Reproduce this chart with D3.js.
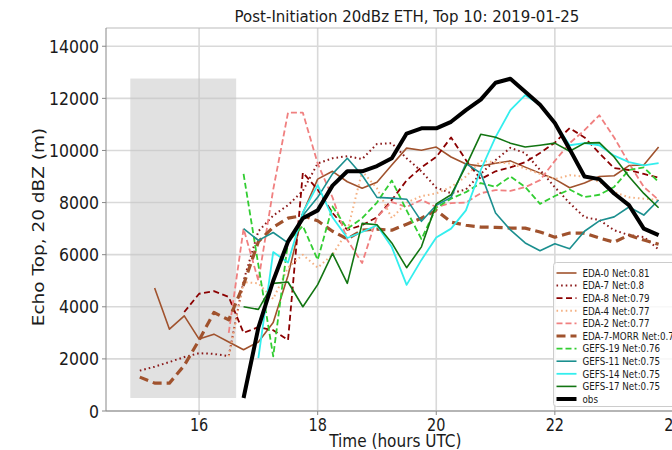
<!DOCTYPE html>
<html>
<head>
<meta charset="utf-8">
<script src="https://cdn.jsdelivr.net/npm/d3@7/dist/d3.min.js"></script>
<style>
  body { margin: 0; background: #fff; }
  text { font-family: "DejaVu Sans", sans-serif; fill: #1a1a1a; }
</style>
</head>
<body>
<svg id="chart" width="672" height="450"></svg>
<script>

// time axis (hours UTC, 15 min steps)
const times = [15.0, 15.25, 15.5, 15.75, 16.0, 16.25, 16.5, 16.75, 17.0, 17.25, 17.5, 17.75,
               18.0, 18.25, 18.5, 18.75, 19.0, 19.25, 19.5, 19.75, 20.0, 20.25, 20.5, 20.75,
               21.0, 21.25, 21.5, 21.75, 22.0, 22.25, 22.5, 22.75, 23.0, 23.25, 23.5, 23.75];

const N = null;

const eda0 = [N, 4720, 3140, 3650, 2760, 2950, 2650, 2350, 2650, 3400, 5200, 7600,
              8900, 9200, 8800, 8550, 8780, 9440, 10090, 10010, 10130, 9750, 9480, 9400,
              9510, 9600, 9360, 9130, 8900, 8570, 8750, 9000, 9030, 9420, 9440, 10130];

const eda7 = [1550, 1700, 1880, 2070, 2220, 2190, 2110, 5000, 6900, 7500, 7900, 8450,
              9500, 9700, 9780, 9670, 10250, 10280, 9700, 9200, 8570, 8360, 8500, 9100,
              9630, 10100, 9900, 9250, 8590, 7980, 7440, 7330, 6940, 6750, 6680, 6200];

const eda8 = [N, N, N, 3800, 4500, 4600, 4380, 3000, 3220, 3100, 2720, 9150,
              8500, 7600, 6950, 7130, 7440, 8100, 8850, 9350, 9750, 10500, 9630, 8900,
              9200, 9350, 9550, 9900, 10300, 10860, 10500, 9900, 9320, 9250, 9100, 8950];

const eda4 = [N, N, N, N, N, N, 2100, 4950, 4900, 4300, 5500, 6000,
              5500, 6000, 6900, 9200, 8550, 7400, 8000, 8250, 8350, 8600, 9000, 9600,
              9550, 9500, 9300, 9100, 8900, 9050, 9000, 8800, 8400, 8200, 8150, 8100];

const eda2 = [N, N, N, N, N, N, 3000, 7000, 5000, 8500, 11450, 11450,
              9500, 8200, 6560, 5680, 7440, 8020, 7830, 8100, 7830, 7980, 8000, 8360,
              8480, 8450, 8590, 8860, 9600, 10280, 10780, 11350, 10500, 9510, 8600, 8100];

const eda7morr = [1300, 1070, 1070, 1750, 2720, 3780, 3500, 4850, 6500, 7050, 7400, 7500,
                  7300, 6900, 6600, 6940, 6980, 6940, 7170, 7400, 7700, 7250, 7130, 7060,
                  7050, 7020, 7020, 6870, 6670, 6830, 6830, 6640, 6480, 6750, 6560, 6400];

const gefs19 = [N, N, N, N, N, N, N, 9100, 5600, 2100, 6500, 7100,
                5800, 7850, 7000, 7400, 8000, 8850, 7700, 6600, 7800, 8150, 8400, 8750,
                8600, 9000, 8600, 7950, 8250, 8500, 8210, 8300, 8600, 9250, 9350, 8790];

const gefs11 = [N, N, N, N, N, N, N, 7000, 6550, 6850, 6450, 7500,
                8200, 9100, 9700, 9050, 8200, 8170, 8130, 7280, 7900, 8200, 9500, 9130,
                7600, 6950, 6450, 6150, 6420, 6230, 6900, 7300, 7450, 7830, 7520, 8100];

const gefs14 = [N, N, N, N, N, N, N, N, 2030, 6100, 5700, 7620,
                8670, 7440, 6640, 6870, 7130, 6290, 4840, 5800, 6660, 7000, 7700, 9250,
                10510, 11550, 12120, 11750, 11050, 10200, 10280, 10200, 9800, 9550, 9430, 9510];

const gefs17 = [N, N, N, N, N, N, N, 4000, 3900, 4900, 4950, 4000,
                4850, 6050, 4900, 7200, 7150, 6450, 5500, 6300, 7950, 8300, 9400, 10620,
                10510, 10280, 10130, 10200, 10280, 9970, 10280, 10300, 9750, 9000, 8350, 7800];

const obs = [N, N, N, N, N, N, N, 500, 3200, 5000, 6500, 7400,
             7700, 8650, 9200, 9200, 9400, 9700, 10650, 10850, 10850, 11100, 11550, 11950,
             12600, 12750, 12250, 11750, 11050, 10050, 9000, 8900, 8350, 7900, 7000, 6750];

const labels = ["EDA-0 Net:0.81", "EDA-7 Net:0.8", "EDA-8 Net:0.79", "EDA-4 Net:0.77",
                "EDA-2 Net:0.77", "EDA-7-MORR Net:0.76", "GEFS-19 Net:0.76", "GEFS-11 Net:0.75",
                "GEFS-14 Net:0.75", "GEFS-17 Net:0.75", "obs"];

const values = [eda0, eda7, eda8, eda4, eda2, eda7morr, gefs19, gefs11, gefs14, gefs17, obs];

const xTicks = [16, 18, 20, 22, 24];
const yTicks = [0, 2000, 4000, 6000, 8000, 10000, 12000, 14000];

// shaded window (hours, m)
const shadeX = [14.84, 16.625];
const shadeY = [500, 12760];

// line styles, same order as labels
const styles = [
    { color: "#a0522d", width: 1.6, dash: null },
    { color: "#8b1a1a", width: 2,   dash: "1.6,3" },
    { color: "#8b0000", width: 1.8, dash: "6,3.5" },
    { color: "#f4b183", width: 2,   dash: "1.6,3" },
    { color: "#f08080", width: 1.8, dash: "6,3" },
    { color: "#a0522d", width: 3.2, dash: "9,5" },
    { color: "#32cd32", width: 1.8, dash: "6,3" },
    { color: "#1b8f8f", width: 1.6, dash: null },
    { color: "#33eeee", width: 1.8, dash: null },
    { color: "#127512", width: 1.6, dash: null },
    { color: "#000000", width: 4,   dash: null }
];

const vars = {
    width: 672, height: 450,
    left: 106, right: 684.7, top: 28, bottom: 411,
    squeeze: 0.85
};

const svg = d3.select("#chart");

const x = d3.scaleLinear().domain([14.43, 24.19]).range([vars.left, vars.right]);
const y = d3.scaleLinear().domain([0, 14700]).range([vars.bottom, vars.top]);

// most text looks a little narrow in the picture, so squeeze it horizontally
function label(parent, str, px, py, size, anchor, rotate, sq = vars.squeeze) {
    let tr = rotate
        ? `translate(${px},${py}) rotate(-90) scale(1,${sq})`
        : `translate(${px},${py}) scale(${sq},1)`;
    return parent.append("text")
        .attr("transform", tr)
        .attr("text-anchor", anchor)
        .style("font-size", size + "px")
        .text(str);
}

//
// GRID + SHADE
//

svg.append("rect")
    .attr("width", vars.width)
    .attr("height", vars.height)
    .attr("fill", "#fff");

let grid = svg.append("g").attr("id", "grid");

grid.selectAll("line.gy")
    .data(yTicks)
    .enter().append("line")
        .attr("class", "gy")
        .attr("x1", vars.left).attr("x2", vars.right)
        .attr("y1", d => y(d)).attr("y2", d => y(d))
        .style("stroke", "#d9d9d9")
        .style("stroke-width", 1.6);

grid.selectAll("line.gx")
    .data(xTicks)
    .enter().append("line")
        .attr("class", "gx")
        .attr("x1", d => x(d)).attr("x2", d => x(d))
        .attr("y1", vars.top).attr("y2", vars.bottom)
        .style("stroke", "#d9d9d9")
        .style("stroke-width", 1.6);

svg.append("rect")
    .attr("x", x(shadeX[0]))
    .attr("y", y(shadeY[1]))
    .attr("width", x(shadeX[1]) - x(shadeX[0]))
    .attr("height", y(shadeY[0]) - y(shadeY[1]))
    .style("fill", "#c4c4c4")
    .style("opacity", 0.5);

//
// LINES
//

let lineGen = d3.line()
    .defined(d => d.v !== null)
    .x(d => x(d.t))
    .y(d => y(d.v));

let lines = svg.append("g").attr("id", "lines");

values.forEach((vals, i) => {
    let pts = times.map((t, j) => ({ t: t, v: vals[j] }));
    lines.append("path")
        .datum(pts)
        .attr("fill", "none")
        .attr("stroke", styles[i].color)
        .attr("stroke-width", styles[i].width)
        .attr("stroke-dasharray", styles[i].dash)
        .attr("stroke-linejoin", "round")
        .attr("d", lineGen);
});

//
// AXES
//

let axes = svg.append("g").attr("id", "axes");

axes.append("line")
    .attr("x1", vars.left).attr("x2", vars.right)
    .attr("y1", vars.top).attr("y2", vars.top)
    .style("stroke", "#bbb");
axes.append("line")
    .attr("x1", vars.left).attr("x2", vars.left)
    .attr("y1", vars.top).attr("y2", vars.bottom)
    .style("stroke", "#888");
axes.append("line")
    .attr("x1", vars.left).attr("x2", vars.right)
    .attr("y1", vars.bottom).attr("y2", vars.bottom)
    .style("stroke", "#888");

axes.selectAll("line.ty")
    .data(yTicks)
    .enter().append("line")
        .attr("class", "ty")
        .attr("x1", vars.left - 4).attr("x2", vars.left)
        .attr("y1", d => y(d)).attr("y2", d => y(d))
        .style("stroke", "#888");

axes.selectAll("line.tx")
    .data(xTicks)
    .enter().append("line")
        .attr("class", "tx")
        .attr("x1", d => x(d)).attr("x2", d => x(d))
        .attr("y1", vars.bottom).attr("y2", vars.bottom + 4)
        .style("stroke", "#888");

yTicks.forEach(d => label(axes, d, vars.left - 7, y(d) + 6.5, 18.5, "end"));
xTicks.forEach(d => label(axes, d, x(d), vars.bottom + 20, 17, "middle"));

label(axes, "Time (hours UTC)", (vars.left + vars.right) / 2, 446.5, 18, "middle");
label(axes, "Echo Top, 20 dBZ (m)", 44, 227, 18.5, "middle", true);
label(axes, "Post-Initiation 20dBz ETH, Top 10: 2019-01-25", 407, 22, 15, "middle", false, 1);

//
// LEGEND
//

let legend = svg.append("g")
    .attr("id", "legend")
    .attr("transform", "translate(553.5, 262.5)");

legend.append("rect")
    .attr("width", 150)
    .attr("height", 144)
    .attr("rx", 3)
    .style("fill", "#fff")
    .style("fill-opacity", 0.8)
    .style("stroke", "#cccccc");

labels.forEach((name, i) => {
    let ly = 10.5 + i * 12.6;
    legend.append("line")
        .attr("x1", 3).attr("x2", 23)
        .attr("y1", ly).attr("y2", ly)
        .attr("stroke", styles[i].color)
        .attr("stroke-width", styles[i].width)
        .attr("stroke-dasharray", styles[i].dash);
    label(legend, name, 29, ly + 3.8, 10.3, "start");
});

</script>
</body>
</html>
